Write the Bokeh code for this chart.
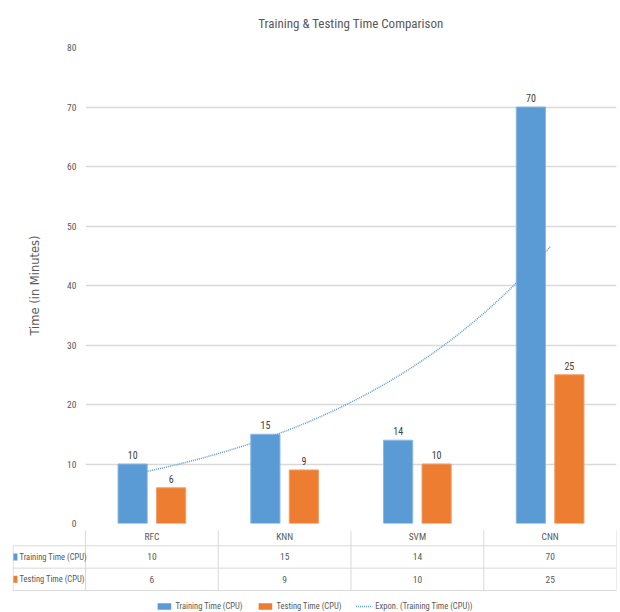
import numpy as np
from bokeh.plotting import figure
from bokeh.models import Range1d, FixedTicker, Legend, LegendItem
from bokeh.core.properties import value
from bokeh.embed import file_html
from bokeh.resources import INLINE

# ---- data ----
categories = ["RFC", "KNN", "SVM", "CNN"]
training_time = [10, 15, 14, 70]
testing_time = [6, 9, 10, 25]
series_names = ["Training Time (CPU)", "Testing Time (CPU)"]
trend_name = "Expon. (Training Time (CPU))"
y_ticks = [0, 10, 20, 30, 40, 50, 60, 70, 80]

FONT = "Liberation Sans Narrow, Roboto Condensed, Arial Narrow, Roboto, sans-serif"
BLUE = "#5B9BD5"
ORANGE = "#ED7D31"
GRID = "#D9D9D9"
TXT = "#595959"

xpos = np.arange(1, len(categories) + 1)
off = 0.145
bw = 0.22

p = figure(width=620, height=530, x_range=Range1d(0.5, 4.5), y_range=Range1d(0, 80),
           output_backend="svg", toolbar_location=None, x_axis_location=None,
           min_border_left=85, min_border_right=4, min_border_top=4, min_border_bottom=7,
           title="Training & Testing Time Comparison")
p.outline_line_color = None
p.title.align = "center"
p.title.vertical_align = "top"
p.title.text_font = FONT
p.title.text_font_size = "13px"
p.title.text_font_style = "normal"
p.title.text_color = TXT
p.title.offset = 0
p.title.standoff = 30

p.yaxis.ticker = FixedTicker(ticks=y_ticks)
p.yaxis.axis_line_color = None
p.yaxis.major_tick_line_color = None
p.yaxis.major_tick_out = 0
p.yaxis.major_tick_in = 0
p.yaxis.minor_tick_line_color = None
p.yaxis.major_label_text_font = FONT
p.yaxis.major_label_text_font_size = "9.5px"
p.yaxis.major_label_text_color = TXT
p.yaxis.major_label_standoff = 9
p.yaxis.axis_label = "Time (in Minutes)"
p.yaxis.axis_label_text_font = "DejaVu Sans"
p.yaxis.axis_label_text_font_size = "11.5px"
p.yaxis.axis_label_text_font_style = "normal"
p.yaxis.axis_label_text_color = TXT
p.yaxis.axis_label_standoff = 22
p.xgrid.visible = False
p.ygrid.ticker = FixedTicker(ticks=y_ticks)
p.ygrid.grid_line_color = GRID
p.ygrid.grid_line_width = 1.5

p.vbar(x=xpos - off, top=training_time, width=bw, bottom=0,
       fill_color=BLUE, line_color="#8CB8E2", line_width=1)
p.vbar(x=xpos + off, top=testing_time, width=bw, bottom=0,
       fill_color=ORANGE, line_color="#F2A06A", line_width=1)
p.text(x=xpos - off, y=training_time, text=[str(v) for v in training_time],
       text_align="center", text_baseline="bottom", y_offset=-5,
       text_font=value(FONT), text_font_size="10px", text_color="#404040")
p.text(x=xpos + off, y=testing_time, text=[str(v) for v in testing_time],
       text_align="center", text_baseline="bottom", y_offset=-5,
       text_font=value(FONT), text_font_size="10px", text_color="#404040")

# exponential trendline fitted to the training series
b, a = np.polyfit(xpos, np.log(training_time), 1)
t = np.linspace(1, 4, 80)
trend_x = t - off * (4 - t) / 3
trend_y = np.exp(a + b * t)
p.line(x=trend_x, y=trend_y, line_color=BLUE, line_width=1.5, line_dash="1 1")

# ---- data table + legend ----
x0 = 0.5 - 73 / 132.75
row_px = 22.33
row_top = 7 / row_px          # part of the first table row lies in the chart's bottom border
row_bottom = row_top + 82 / row_px
q = figure(width=620, height=82, x_range=Range1d(x0, 4.5), y_range=Range1d(row_bottom, row_top),
           output_backend="svg", toolbar_location=None, x_axis_location=None,
           y_axis_location=None, min_border_left=12, min_border_right=4,
           min_border_top=0, min_border_bottom=0)
q.outline_line_color = None
q.xgrid.visible = False
q.ygrid.visible = False

edges = np.arange(len(categories) + 1) + 0.5
q.segment(x0=edges, y0=[0] * len(edges), x1=edges, y1=[3] * len(edges),
          line_color=GRID, line_width=1)
q.segment(x0=[x0 + 0.005], y0=[1], x1=[x0 + 0.005], y1=[3], line_color=GRID, line_width=1)
q.segment(x0=[x0] * 3, y0=[1, 2, 3], x1=[4.5] * 3, y1=[1, 2, 3],
          line_color=GRID, line_width=1)

q.text(x=xpos, y=[0.6] * 4, text=categories, text_align="center", text_baseline="middle",
       text_font=value(FONT), text_font_size="9.5px", text_color=TXT)
q.text(x=xpos, y=[1.5] * 4, text=[str(v) for v in training_time], text_align="center",
       text_baseline="middle", text_font=value(FONT), text_font_size="9.5px", text_color=TXT)
q.text(x=xpos, y=[2.5] * 4, text=[str(v) for v in testing_time], text_align="center",
       text_baseline="middle", text_font=value(FONT), text_font_size="9.5px", text_color=TXT)
q.text(x=[x0 + 0.053] * 2, y=[1.5, 2.5], text=series_names, text_align="left",
       text_baseline="middle", text_font=value(FONT), text_font_size="8.5px", text_color=TXT)
sw = q.rect(x=[x0 + 0.022] * 2, y=[1.5, 2.5], width=4, height=7, width_units="screen",
            height_units="screen", fill_color=[BLUE, ORANGE], line_color=None)
# trendline also in the table figure (lies outside its visible range) for the legend swatch
tl = q.line(x=trend_x, y=trend_y, line_color=BLUE, line_width=1.5, line_dash="1 1")

legend = Legend(items=[LegendItem(label=series_names[0], renderers=[sw], index=0),
                       LegendItem(label=series_names[1], renderers=[sw], index=1),
                       LegendItem(label=trend_name, renderers=[tl])],
                orientation="horizontal", location="bottom_center",
                border_line_color=None, background_fill_alpha=0,
                label_text_font=FONT, label_text_font_size="8.5px", label_text_color=TXT,
                glyph_width=17, glyph_height=8, spacing=14, padding=1, margin=1,
                label_standoff=3, label_height=10)
q.add_layout(legend, "center")

open("out.html", "w").write(file_html([p, q], INLINE))
